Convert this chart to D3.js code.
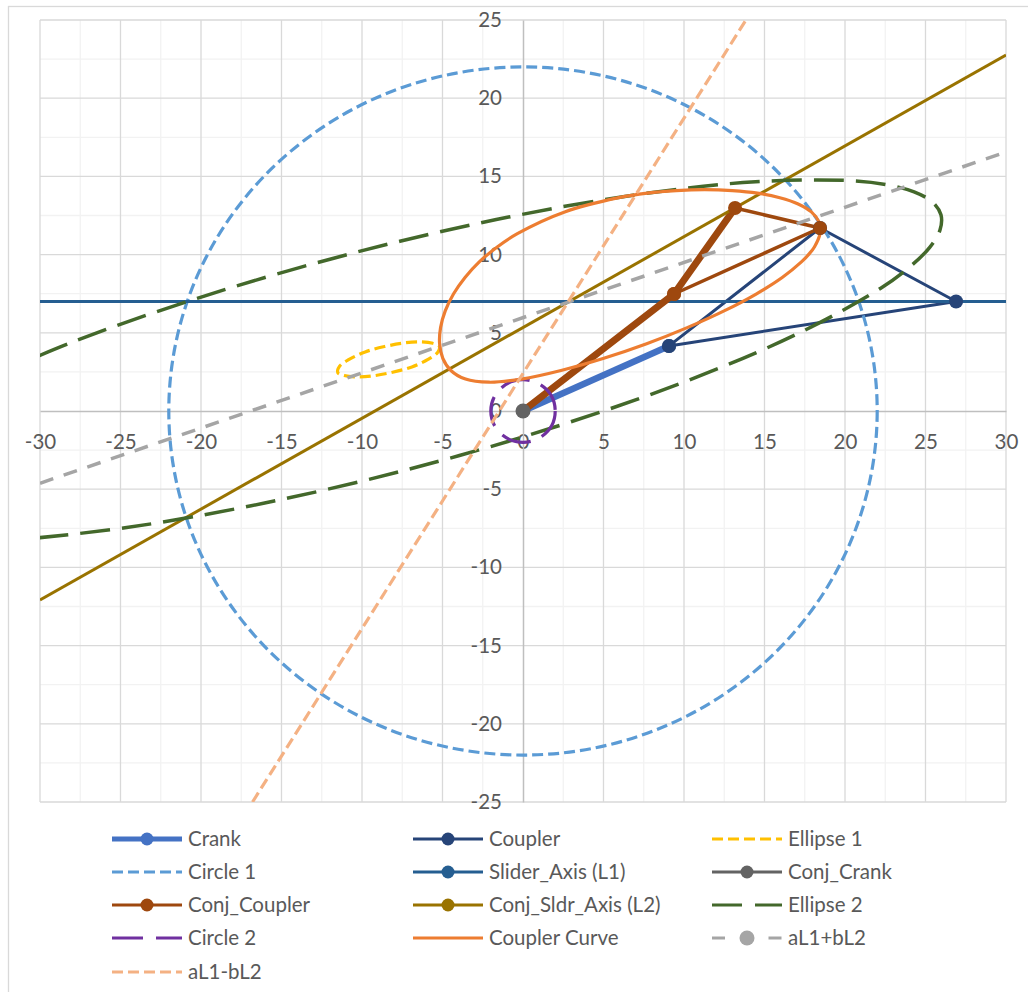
<!DOCTYPE html>
<html lang="en">
<head>
<meta charset="UTF-8">
<title>Slider crank and conjugate mechanism</title>
<script src="https://d3js.org/d3.v7.min.js"></script>
<style>
  body { margin: 0; background: #fff; }
  text { font-family: Lato, "Open Sans", sans-serif; fill: #595959; }
</style>
</head>
<body>
<script>
// tick labels and gridlines
const xTicks = [-30, -25, -20, -15, -10, -5, 0, 5, 10, 15, 20, 25, 30];
const yTicks = [-25, -20, -15, -10, -5, 0, 5, 10, 15, 20, 25];
const xMinor = [-27.5, -22.5, -17.5, -12.5, -7.5, -2.5, 2.5, 7.5, 12.5, 17.5, 22.5, 27.5];
const yMinor = [-22.5, -17.5, -12.5, -7.5, -2.5, 2.5, 7.5, 12.5, 17.5, 22.5];

// series points [x, y]
const crank = [[0, 0], [9.07, 4.16]];
const coupler = [[9.07, 4.16], [26.9, 7.0], [18.45, 11.7], [9.07, 4.16]];
const ellipse1 = [[-5.2, 4.15], [-5.6, 4.33], [-6.4, 4.42], [-7.4, 4.35], [-8.6, 4.12], [-9.8, 3.78],
  [-10.8, 3.3], [-11.4, 2.85], [-11.5, 2.45], [-11.1, 2.27], [-10.3, 2.18], [-9.3, 2.25],
  [-8.1, 2.48], [-6.9, 2.82], [-5.9, 3.3], [-5.3, 3.75]];
const circle1 = [0, 0, 22];          // centre x, centre y, radius
const sliderAxis = [[-30, 7], [30, 7]];
const conjCrank = [[0, 0]];
const conjCoupler = [[0, 0], [9.38, 7.48], [13.17, 12.98], [18.45, 11.7], [9.38, 7.48]];
const conjSliderAxis = [[-30, -12.08], [30, 22.76]];
const ellipse2 = [[-34.84, 1.40], [-27.92, 4.43], [-19.70, 7.38], [-10.74, 10.05], [-1.66, 12.24],
  [6.94, 13.81], [14.44, 14.66], [20.36, 14.73], [22.60, 14.47], [24.29, 14.01], [25.42, 13.37],
  [25.96, 12.55], [25.90, 11.57], [25.25, 10.45], [24.02, 9.21], [22.22, 7.85], [17.06, 4.94],
  [10.14, 1.91], [1.92, -1.04], [-7.04, -3.71], [-16.12, -5.90], [-24.72, -7.47], [-32.22, -8.32]];
const circle2 = [0, 0, 2];
const couplerCurve = [[17.31, 9.55], [17.76, 10.03], [18.10, 10.49], [18.45, 11.34], [18.45, 11.70],
  [18.38, 12.09], [17.91, 12.73], [17.09, 13.24], [15.95, 13.64], [14.56, 13.93], [13.00, 14.09],
  [11.29, 14.15], [9.52, 14.09], [7.72, 13.93], [5.95, 13.64], [2.59, 12.73], [-0.35, 11.34],
  [-1.60, 10.49], [-2.70, 9.55], [-3.60, 8.54], [-4.32, 7.48], [-4.83, 6.40], [-5.12, 5.33],
  [-5.18, 4.30], [-4.98, 3.37], [-4.48, 2.59], [-3.57, 2.04], [-2.11, 1.84], [-0.09, 2.04],
  [2.36, 2.59], [5.02, 3.37], [7.68, 4.30], [10.20, 5.33], [12.49, 6.40], [14.48, 7.48], [16.10, 8.54]];
const sumLine = [[-30, -4.62], [30, 16.56]];
const diffLine = [[-16.8, -25], [13.85, 25]];

const width = 1028;
const height = 992;
const plot = { left: 40, right: 1006, top: 20, bottom: 802 };
const fontSize = "20.5px";

// series table (styles kept apart from the data)
const series = [
  { name: "Crank", pts: crank, color: "#4472C4", w: 6.5, legendW: 5, marker: 6 },
  { name: "Coupler", pts: coupler, color: "#264478", w: 3, legendW: 3, marker: 7 },
  { name: "Ellipse 1", pts: ellipse1, kind: "closed", color: "#FFC000", w: 3.2, legendW: 3, dash: "11,5" },
  { name: "Circle 1", circle: circle1, color: "#5B9BD5", w: 3.2, legendW: 3, dash: "11,5" },
  { name: "Slider_Axis (L1)", pts: sliderAxis, color: "#255E91", w: 3, legendW: 3, legendMarker: 6.5 },
  { name: "Conj_Crank", pts: conjCrank, color: "#636363", w: 3, legendW: 3, marker: 7.5 },
  { name: "Conj_Coupler", pts: conjCoupler, color: "#9E480E", w: 3.5, legendW: 3, marker: 7,
    segW: [7, 7, 3.5, 3.5], markerFrom: 1 },
  { name: "Conj_Sldr_Axis (L2)", pts: conjSliderAxis, color: "#997300", w: 3, legendW: 3, legendMarker: 6.5 },
  { name: "Ellipse 2", pts: ellipse2, kind: "open", color: "#43682B", w: 3.5, legendW: 3, dash: "30,12", legendDash: "30,13" },
  { name: "Circle 2", circle: circle2, color: "#7030A0", w: 3.2, legendW: 3, dash: "30,12", legendDash: "31,13" },
  { name: "Coupler Curve", pts: couplerCurve, kind: "closed", color: "#ED7D31", w: 3.2, legendW: 3 },
  { name: "aL1+bL2", pts: sumLine, color: "#A5A5A5", w: 3.5, legendW: 3, dash: "14,11", legendDash: "13,43.5", legendMarker: 7.5 },
  { name: "aL1-bL2", pts: diffLine, color: "#F4B183", w: 3.2, legendW: 3, dash: "11,5" }
];

const svg = d3.select("body").append("svg")
  .attr("width", width)
  .attr("height", height);

svg.append("rect").attr("width", width).attr("height", height).attr("fill", "#fff");
// chart area border
svg.append("rect")
  .attr("x", 8.5).attr("y", 6.5)
  .attr("width", 1040).attr("height", 1000)
  .attr("fill", "none").attr("stroke", "#d9d9d9").attr("stroke-width", 1.3);

const x = d3.scaleLinear().domain([-30, 30]).range([plot.left, plot.right]);
const y = d3.scaleLinear().domain([-25, 25]).range([plot.bottom, plot.top]);

// gridlines
const grid = svg.append("g");
function vLines(vals, color) {
  grid.append("g").selectAll("line").data(vals).join("line")
    .attr("x1", d => x(d)).attr("x2", d => x(d))
    .attr("y1", plot.top).attr("y2", plot.bottom)
    .attr("stroke", color).attr("stroke-width", 1.3);
}
function hLines(vals, color) {
  grid.append("g").selectAll("line").data(vals).join("line")
    .attr("y1", d => y(d)).attr("y2", d => y(d))
    .attr("x1", plot.left).attr("x2", plot.right)
    .attr("stroke", color).attr("stroke-width", 1.3);
}
vLines(xMinor, "#f2f2f2");
hLines(yMinor, "#f2f2f2");
vLines(xTicks.filter(d => d !== 0), "#d9d9d9");
hLines(yTicks.filter(d => d !== 0), "#d9d9d9");

// axes through the origin
const xAxis = svg.append("g")
  .attr("transform", "translate(0," + y(0) + ")")
  .call(d3.axisBottom(x).tickValues(xTicks).tickSize(0).tickSizeOuter(0).tickPadding(23).tickFormat(d => String(d)));
const yAxis = svg.append("g")
  .attr("transform", "translate(" + x(0) + ",0)")
  .call(d3.axisLeft(y).tickValues(yTicks).tickSize(0).tickSizeOuter(0).tickPadding(21).tickFormat(d => String(d)));
[xAxis, yAxis].forEach(g => {
  g.attr("font-family", null).attr("font-size", null);
  g.select(".domain").attr("stroke", "#bfbfbf").attr("stroke-width", 1.5);
  g.selectAll("text").style("font-size", fontSize).attr("fill", "#595959");
});

// series
svg.append("clipPath").attr("id", "plotClip")
  .append("rect")
  .attr("x", plot.left).attr("y", plot.top)
  .attr("width", plot.right - plot.left).attr("height", plot.bottom - plot.top);

const layer = svg.append("g").attr("clip-path", "url(#plotClip)");
const straight = d3.line().x(d => x(d[0])).y(d => y(d[1]));
const closedCurve = d3.line().x(d => x(d[0])).y(d => y(d[1])).curve(d3.curveCatmullRomClosed);
const openCurve = d3.line().x(d => x(d[0])).y(d => y(d[1])).curve(d3.curveCatmullRom);

series.forEach(s => {
  let el;
  if (s.circle) {
    el = layer.append("ellipse")
      .attr("cx", x(s.circle[0])).attr("cy", y(s.circle[1]))
      .attr("rx", x(s.circle[2]) - x(0)).attr("ry", y(0) - y(s.circle[2]));
  } else if (s.segW) {
    s.pts.slice(1).forEach((p, i) => {
      layer.append("path")
        .attr("d", straight([s.pts[i], p]))
        .attr("fill", "none").attr("stroke", s.color)
        .attr("stroke-width", s.segW[i]).attr("stroke-linecap", "round");
    });
    return;
  } else if (s.pts.length > 1) {
    const gen = s.kind === "closed" ? closedCurve : s.kind === "open" ? openCurve : straight;
    el = layer.append("path").attr("d", gen(s.pts));
  } else {
    return;
  }
  el.attr("fill", "none")
    .attr("stroke", s.color)
    .attr("stroke-width", s.w)
    .attr("stroke-linejoin", "round")
    .attr("stroke-dasharray", s.dash || null);
});

// markers on top of the lines
series.filter(s => s.marker).forEach(s => {
  layer.append("g").selectAll("circle")
    .data(s.pts.slice(s.markerFrom || 0))
    .join("circle")
    .attr("cx", d => x(d[0])).attr("cy", d => y(d[1]))
    .attr("r", s.marker)
    .attr("fill", s.color);
});

// legend, three columns
const legCols = [112, 413, 712];
const legRows = [839, 872, 905, 938, 972];
const legLen = 70;
const legend = svg.append("g");
series.forEach((s, i) => {
  const lx = legCols[i % 3];
  const ly = legRows[Math.floor(i / 3)];
  const g = legend.append("g").attr("transform", "translate(" + lx + "," + ly + ")");
  g.append("line")
    .attr("x1", 0).attr("x2", legLen).attr("y1", 0).attr("y2", 0)
    .attr("stroke", s.color).attr("stroke-width", s.legendW)
    .attr("stroke-dasharray", s.legendDash || s.dash || null);
  const mr = s.legendMarker || (s.marker ? 6.5 : 0);
  if (mr) {
    g.append("circle").attr("cx", legLen / 2).attr("cy", 0).attr("r", mr).attr("fill", s.color);
  }
  g.append("text")
    .attr("x", legLen + 6).attr("y", 0)
    .attr("dy", "0.35em")
    .style("font-size", fontSize)
    .text(s.name);
});
</script>
</body>
</html>
